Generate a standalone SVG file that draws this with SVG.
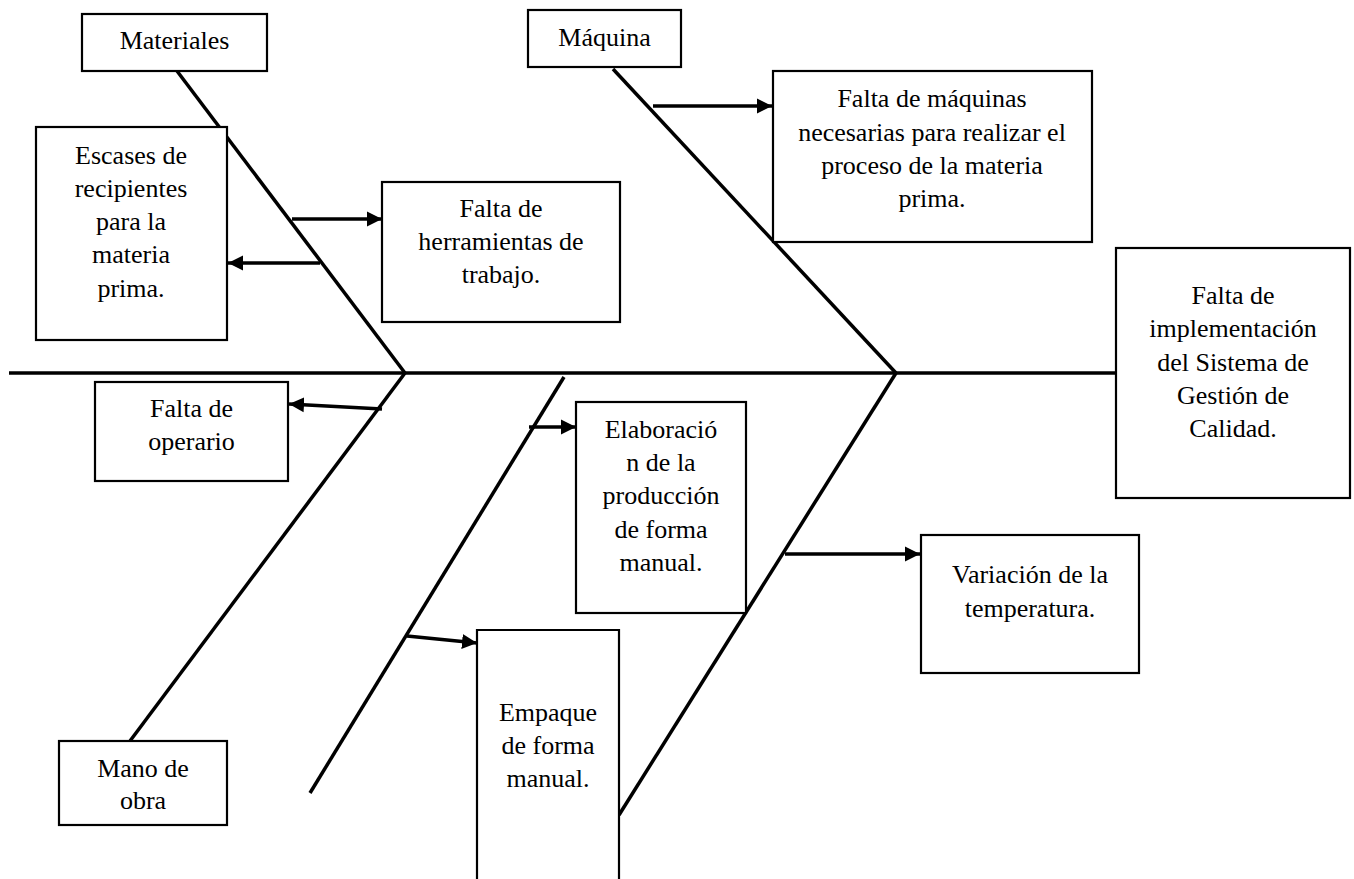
<svg xmlns="http://www.w3.org/2000/svg" width="1354" height="879" viewBox="0 0 1354 879">
<style>
.box{fill:#fff;stroke:#000;stroke-width:2.2}
.t{font-family:'Liberation Serif','Times New Roman',Times,'DejaVu Serif',serif;font-size:26px;fill:#000;text-anchor:middle}
.bone{stroke:#000;stroke-width:3.5;fill:none;stroke-linecap:butt}
.arr{stroke:#000;stroke-width:3.5;fill:none;marker-end:url(#ah)}
</style>
<defs>
<marker id="ah" markerUnits="userSpaceOnUse" markerWidth="16" markerHeight="16" viewBox="0 0 16 16" refX="15" refY="8" orient="auto">
<path d="M0,0.5 L15,8 L0,15.5 Z" fill="#000"/>
</marker>
</defs>
<rect width="1354" height="879" fill="#fff"/>
<g id="connectors">
<line class="bone" x1="9" y1="373" x2="1116" y2="373"/>
<line class="bone" x1="177" y1="71" x2="405" y2="373"/>
<line class="bone" x1="613" y1="69" x2="896" y2="373"/>
<line class="bone" x1="405" y1="373" x2="130" y2="741"/>
<line class="bone" x1="564" y1="377" x2="310" y2="793"/>
<line class="bone" x1="896" y1="373" x2="619" y2="815"/>
<line class="arr" x1="292" y1="219" x2="382" y2="219"/>
<line class="arr" x1="320" y1="263" x2="228" y2="263"/>
<line class="arr" x1="653" y1="106" x2="772" y2="106"/>
<line class="arr" x1="382" y1="409" x2="289" y2="404"/>
<line class="arr" x1="529" y1="427" x2="576" y2="427"/>
<line class="arr" x1="407" y1="636" x2="477" y2="643"/>
<line class="arr" x1="785" y1="554" x2="920" y2="554"/>
</g>
<g id="materiales">
<rect class="box" x="82" y="14" width="185" height="57"/>
<text class="t" font-family="Liberation Serif, serif" x="174.5" y="49">Materiales</text>
</g>
<g id="maquina">
<rect class="box" x="528" y="10" width="153" height="57"/>
<text class="t" x="604.5" y="46">Máquina</text>
</g>
<g id="escases">
<rect class="box" x="36" y="127" width="191" height="213"/>
<text class="t" x="131" y="164">Escases de</text>
<text class="t" x="131" y="197">recipientes</text>
<text class="t" x="131" y="230">para la</text>
<text class="t" x="131" y="263">materia</text>
<text class="t" x="131" y="297">prima.</text>
</g>
<g id="herramientas">
<rect class="box" x="382" y="182" width="238" height="140"/>
<text class="t" x="501" y="217">Falta de</text>
<text class="t" x="501" y="250">herramientas de</text>
<text class="t" x="501" y="283">trabajo.</text>
</g>
<g id="maquinas">
<rect class="box" x="773" y="71" width="319" height="171"/>
<text class="t" x="932" y="107">Falta de máquinas</text>
<text class="t" x="932" y="141">necesarias para realizar el</text>
<text class="t" x="932" y="174">proceso de la materia</text>
<text class="t" x="932" y="207">prima.</text>
</g>
<g id="calidad">
<rect class="box" x="1116" y="248" width="234" height="250"/>
<text class="t" x="1233" y="304">Falta de</text>
<text class="t" x="1233" y="337">implementación</text>
<text class="t" x="1233" y="371">del Sistema de</text>
<text class="t" x="1233" y="404">Gestión de</text>
<text class="t" x="1233" y="437">Calidad.</text>
</g>
<g id="operario">
<rect class="box" x="95" y="382" width="193" height="99"/>
<text class="t" x="191.5" y="417">Falta de</text>
<text class="t" x="191.5" y="450">operario</text>
</g>
<g id="manodeobra">
<rect class="box" x="59" y="741" width="168" height="84"/>
<text class="t" x="143" y="777">Mano de</text>
<text class="t" x="143" y="809">obra</text>
</g>
<g id="elaboracion">
<rect class="box" x="576" y="402" width="170" height="211"/>
<text class="t" x="661" y="438">Elaboració</text>
<text class="t" x="661" y="471">n de la</text>
<text class="t" x="661" y="504">producción</text>
<text class="t" x="661" y="538">de forma</text>
<text class="t" x="661" y="571">manual.</text>
</g>
<g id="empaque">
<path class="box" d="M477,890 L477,630 L619,630 L619,890"/>
<text class="t" x="548" y="721">Empaque</text>
<text class="t" x="548" y="754">de forma</text>
<text class="t" x="548" y="787">manual.</text>
</g>
<g id="variacion">
<rect class="box" x="921" y="535" width="218" height="138"/>
<text class="t" x="1030" y="583">Variación de la</text>
<text class="t" x="1030" y="617">temperatura.</text>
</g>
</svg>
